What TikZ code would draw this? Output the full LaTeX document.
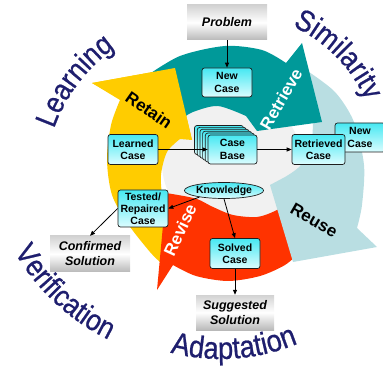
\documentclass[tikz,border=0pt]{standalone}
\usepackage{fontspec}
\setmainfont{Liberation Sans}
\newfontfamily\wafont[FakeStretch=0.88,FakeBold=0.7]{Liberation Sans}
\usetikzlibrary{arrows.meta,decorations.text,shapes.geometric}
\definecolor{tealc}{RGB}{0,153,153}
\definecolor{yelc}{RGB}{255,204,0}
\definecolor{redc}{RGB}{255,51,0}
\definecolor{bluec}{RGB}{185,222,226}
\definecolor{diskc}{RGB}{241,241,241}
\definecolor{navyc}{RGB}{30,30,110}
\definecolor{cyantop}{RGB}{70,232,242}
\definecolor{cyanbot}{RGB}{220,253,255}
\definecolor{edgec}{RGB}{30,30,30}
\begin{document}
\begin{tikzpicture}[x=1pt,y=-1pt,
  cbox/.style={draw=edgec, line width=0.7pt, rounded corners=2.5pt, top color=cyantop, bottom color=cyanbot, align=center, inner sep=0pt, font=\bfseries\fontsize{10.5}{12.5}\selectfont},
  gbox/.style={top color=gray!35, bottom color=gray!55, middle color=white, align=center, inner sep=0pt, font=\bfseries\itshape\fontsize{12.5}{15}\selectfont},
  conn/.style={draw=black, line width=0.8pt, -{Triangle[length=5pt,width=4pt]}},
  lbl/.style={font=\bfseries\fontsize{17}{17}\selectfont, inner sep=0pt},
  bigword/.style={decorate, decoration={text along path, text align=center, text color=navyc}}
]
\useasboundingbox (0,0) rectangle (383,366);
% central disk
\fill[diskc] (232,163) circle[radius=70pt];
% Retain (yellow)
\fill[yelc] plot[smooth] coordinates {(160,262) (150,252) (128,224) (112,195) (107,160) (111,125) (120,100)}
  -- (92,83) -- (175,68) -- (192,140)
  -- plot[smooth] coordinates {(180,139) (167,152) (161,175) (163,200) (172,225) (180,236)} -- cycle;
% Revise (red)
\fill[redc] plot[smooth] coordinates {(300,252) (285,265) (260,276) (228,281) (196,276) (173,265)}
  -- (157,290) -- (166,193)
  -- plot[smooth] coordinates {(178,195) (197,199) (213,207) (233,215) (257,217) (275,211) (288,203)} -- cycle;
% Reuse (light blue)
\fill[bluec] plot[smooth] coordinates {(306,70) (335,92) (354,122) (364,165) (362,205) (357,228)}
  -- (377,247) -- (293,262) -- (270,185)
  -- plot[smooth] coordinates {(285,177) (300,166) (311,145) (313,122)} -- cycle;
% Retrieve (teal)
\fill[tealc] plot[smooth] coordinates {(145,77) (180,56) (225,46) (262,50) (286,63)}
  -- (302,43) -- (322,122) -- (257,131)
  -- plot[smooth] coordinates {(246,116) (218,106) (193,112) (180,120)} -- cycle;
% yellow head on top
\fill[yelc] (92,83) -- (175,68) -- (192,140) -- cycle;
% arrow labels
\node[lbl, text=white, rotate=60] (lretrieve) at (281,99) {Retrieve};
\node[lbl, text=black, rotate=-35] (lretain) at (149,110) {Retain};
\node[lbl, text=black, rotate=-30] (lreuse) at (314,220) {Reuse};
\node[lbl, text=white, rotate=65] (lrevise) at (180,230) {Revise};
% big words
\path[bigword, decoration={text={|\wafont\fontsize{30}{30}\selectfont|Similarity}}]
  plot[domain=-80:-9, samples=60] ({229+150*cos(\x)}, {162+150*sin(\x)});
\path[bigword, decoration={text={|\wafont\fontsize{30}{30}\selectfont|Learning}}]
  plot[domain=-175:-111, samples=60] ({214+170*cos(\x)}, {186+170*sin(\x)});
\path[bigword, decoration={text={|\wafont\fontsize{30}{30}\selectfont|Verification}}]
  plot[domain=0:1, samples=60] ({205+220*cos(163-60*\x)}, {142+220*sin(163-60*\x)});
\path[bigword, decoration={text={|\wafont\fontsize{31}{31}\selectfont|Adaptation}}]
  plot[domain=0:1, samples=60] ({221+200*cos(116-60*\x)}, {159+200*sin(116-60*\x)});
% nodes
\node[gbox, minimum width=80pt, minimum height=35pt] (problem) at (227,22.5) {Problem};
\node[cbox, minimum width=50pt, minimum height=29pt] (newcase) at (227,82.5) {New\\Case};
\foreach \k in {5,4,3,2,1}
  \node[cbox, minimum width=49pt, minimum height=29pt] (cbk\k) at ({232.5-2.7*\k},{149.5-1.9*\k}) {};
\node[cbox, minimum width=49pt, minimum height=29pt] (casebase) at (232.5,149.5) {Case\\Base};
\node[cbox, minimum width=50pt, minimum height=30pt] (learned) at (133,149.5) {Learned\\Case};
\node[cbox, minimum width=50pt, minimum height=29pt] (newcase2) at (360,137.5) {New\\Case};
\node[cbox, minimum width=53pt, minimum height=30pt] (retrieved) at (318.5,149.5) {Retrieved\\Case};
\node[cbox, ellipse, rounded corners=0pt, minimum width=72pt, minimum height=16pt] (knowledge) at (224,190.5) {Knowledge};
\node[cbox, minimum width=50pt, minimum height=37pt, font=\bfseries\fontsize{10.5}{12}\selectfont] (tested) at (143,208.5) {Tested/\\Repaired\\Case};
\node[cbox, minimum width=50pt, minimum height=30pt] (solved) at (235,253.5) {Solved\\Case};
\node[gbox, minimum width=78pt, minimum height=35pt] (suggested) at (235,312.5) {Suggested\\Solution};
\node[gbox, minimum width=80pt, minimum height=36pt] (confirmed) at (90,254) {Confirmed\\Solution};
% connectors
\draw[conn] (problem) -- (newcase);
\draw[conn] (learned) -- (casebase);
\draw[conn] (casebase) -- (retrieved);
\draw[conn] (knowledge.195) -- (tested.east);
\draw[conn] (knowledge.south) -- (solved.north);
\draw[conn] (solved) -- (suggested);
\draw[conn] (tested.west) -- (confirmed.north);
\end{tikzpicture}
\end{document}
